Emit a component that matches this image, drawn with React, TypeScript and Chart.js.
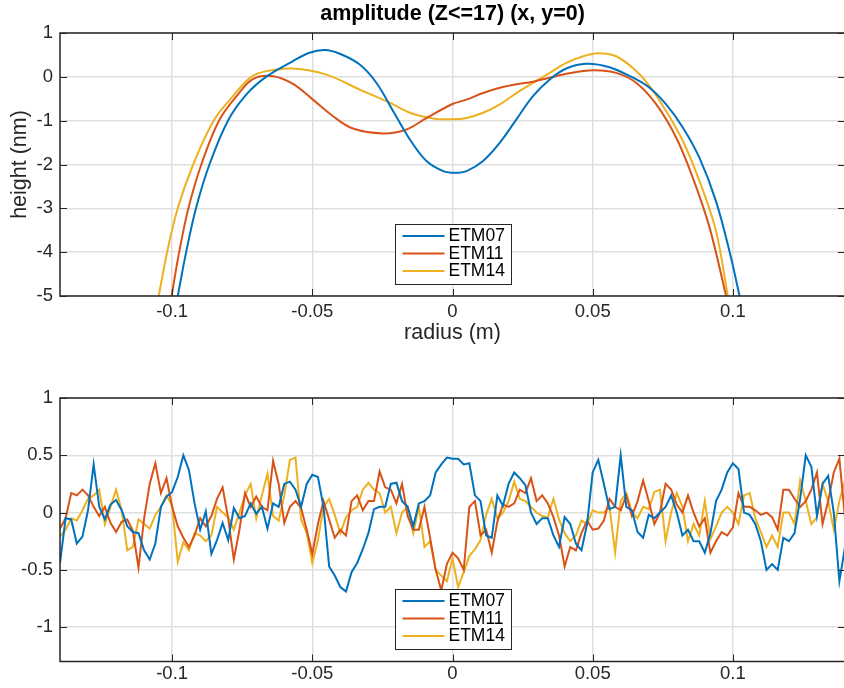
import React, { useEffect, useRef } from 'react';
import { Chart, registerables } from 'chart.js';

Chart.register(...registerables);

const FONT = '"Liberation Sans", Arial, Helvetica, sans-serif';
const AXIS_COLOR = '#262626';
const GRID_COLOR = '#dfdfdf';
const BLUE = '#0072BD';
const ORANGE = '#D95319';
const YELLOW = '#EDB120';

const seriesNames = ['ETM07', 'ETM11', 'ETM14'];
const titleText = 'amplitude (Z<=17) (x, y=0)';
const xLabelText = 'radius (m)';
const yLabelText = 'height (nm)';

const xTickValues = [-0.1, -0.05, 0, 0.05, 0.1];
const xTickLabels = ['-0.1', '-0.05', '0', '0.05', '0.1'];
const topYTickValues = [-5, -4, -3, -2, -1, 0, 1];
const topYTickLabels = ['-5', '-4', '-3', '-2', '-1', '0', '1'];
const botYTickValues = [-1, -0.5, 0, 0.5, 1];
const botYTickLabels = ['-1', '-0.5', '0', '0.5', '1'];

// ---------- top subplot (smooth profiles) ----------
const topEtm07X = [-0.098, -0.095, -0.0915, -0.0867, -0.0801, -0.0735, -0.0665, -0.0569, -0.051, -0.0456, -0.04, -0.0331, -0.0271, -0.0212, -0.0152, -0.0093, -0.0033, 0.0008, 0.005, 0.0109, 0.0169, 0.0228, 0.0287, 0.0347, 0.0406, 0.0477, 0.056, 0.0644, 0.0703, 0.0762, 0.0822, 0.0881, 0.094, 0.0988, 0.1024];
const topEtm07Y = [-5.0, -4.0, -3.0, -2.0, -1.0, -0.4, 0.0, 0.36, 0.55, 0.61, 0.52, 0.28, -0.14, -0.78, -1.43, -1.92, -2.15, -2.19, -2.15, -1.92, -1.5, -0.97, -0.44, -0.06, 0.19, 0.3, 0.22, -0.02, -0.25, -0.63, -1.16, -1.85, -2.84, -3.98, -5.0];

const topEtm11X = [-0.1002, -0.0975, -0.0942, -0.0896, -0.0833, -0.0765, -0.0712, -0.064, -0.0569, -0.0498, -0.0426, -0.0355, -0.0248, -0.0164, -0.0093, 0.0, 0.005, 0.0109, 0.0169, 0.0228, 0.0287, 0.0347, 0.0406, 0.0501, 0.0584, 0.0656, 0.0727, 0.0798, 0.0857, 0.0917, 0.0976];
const topEtm11Y = [-5.0, -4.0, -3.0, -2.0, -1.0, -0.4, -0.05, 0.015, -0.16, -0.52, -0.9, -1.18, -1.29, -1.2, -0.94, -0.62, -0.52, -0.37, -0.25, -0.17, -0.11, -0.02, 0.07, 0.15, 0.09, -0.14, -0.63, -1.39, -2.3, -3.44, -5.0];

const topEtm14X = [-0.1048, -0.1018, -0.098, -0.0925, -0.0852, -0.0783, -0.0718, -0.0664, -0.0569, -0.045, -0.0331, -0.0224, -0.0152, -0.0069, 0.0, 0.005, 0.0109, 0.0169, 0.0228, 0.0287, 0.0347, 0.0406, 0.0466, 0.0519, 0.0584, 0.0656, 0.0703, 0.0762, 0.0822, 0.0881, 0.094, 0.0982];
const topEtm14Y = [-5.0, -4.0, -3.0, -2.0, -1.0, -0.44, 0.0, 0.13, 0.19, 0.05, -0.29, -0.59, -0.82, -0.95, -0.97, -0.94, -0.82, -0.63, -0.37, -0.14, 0.09, 0.32, 0.47, 0.54, 0.47, 0.13, -0.21, -0.78, -1.47, -2.38, -3.52, -5.0];

// ---------- bottom subplot (residuals, sampled every 0.002 m from -0.14 to 0.14) ----------
const botX = Array.from({ length: 141 }, (_, i) => Math.round((-0.14 + i * 0.002) * 10000) / 10000);

const botEtm07 = [
  -0.44, -0.05, -0.06, -0.27, -0.21, 0.02, 0.42, 0.05, -0.06, 0.07, 0.11, 0.02, -0.12, -0.17, -0.18, -0.33, -0.41, -0.27, 0.05, 0.14,
  0.18, 0.31, 0.5, 0.37, 0.08, -0.15, 0.01, -0.36, -0.24, -0.09, -0.24, 0.04, -0.05, -0.03, 0.08, -0.01,
  0.05, -0.14, 0.08, 0.05, 0.25, 0.27, 0.2, 0.05, 0.25, 0.33, 0.31, 0.05, -0.47, -0.55, -0.65, -0.69, -0.52, -0.44, -0.32, -0.18,
  0.03, 0.05, 0.05, 0.25, 0.26, 0.1, 0.05, -0.12, 0.08, 0.1, 0.15, 0.35, 0.42, 0.48, 0.47,
  0.47, 0.42, 0.43, 0.15, 0.1, -0.2, -0.22, 0.15, 0.06, 0.25, 0.35, 0.3, 0.24, 0.0, -0.1, -0.05, -0.05, -0.2, -0.3, -0.04,
  -0.1, -0.27, -0.33, -0.1, 0.35, 0.46, 0.25, 0.03, 0.05, 0.5, 0.05, 0.02, -0.17, -0.22, -0.02,
  -0.05, 0.0, 0.05, 0.15, 0.0, -0.2, -0.15, -0.25, -0.25, -0.35, -0.18, 0.1, 0.2, 0.35, 0.43, 0.38, 0.0, -0.02, -0.1, -0.25,
  -0.5, -0.45, -0.5, -0.22, -0.25, -0.18, 0.12, 0.5, 0.4, -0.03, 0.25, 0.32, 0.0, -0.6, -0.3,
];

const botEtm11 = [
  -0.14, -0.05, 0.17, 0.15, 0.2, 0.15, 0.05, -0.03, 0.05, -0.09, -0.17, -0.08, -0.06, -0.16, -0.48, -0.05, 0.25, 0.43, 0.17, 0.3,
  0.05, -0.12, -0.22, -0.3, -0.2, -0.05, -0.12, -0.03, 0.12, 0.22, -0.05, -0.41, -0.15, 0.17, 0.05, 0.14,
  0.05, 0.02, 0.45, 0.25, -0.09, 0.05, 0.1, 0.04, -0.15, -0.36, -0.1, 0.1, -0.06, -0.22, -0.15, -0.2, 0.1, 0.15, 0.02, 0.1,
  0.1, 0.36, 0.22, 0.2, 0.08, 0.25, -0.03, -0.15, -0.15, 0.05, -0.22, -0.5, -0.68, -0.45, -0.35,
  -0.4, -0.5, 0.05, 0.1, -0.2, -0.15, -0.35, -0.08, 0.07, 0.05, 0.08, 0.2, 0.17, 0.3, 0.1, 0.15, 0.08, -0.04, -0.2, -0.47,
  -0.3, -0.33, -0.18, -0.07, -0.15, -0.14, -0.07, 0.12, 0.05, 0.02, 0.15, -0.03, 0.1, 0.28, 0.1,
  -0.1, 0.0, 0.25, 0.2, 0.07, 0.0, 0.15, 0.0, -0.12, -0.05, -0.35, -0.25, -0.17, -0.2, -0.13, 0.17, 0.05, 0.05, 0.02, -0.02,
  0.0, -0.04, -0.15, 0.2, 0.2, 0.12, 0.05, 0.1, 0.2, 0.35, -0.1, 0.1, 0.35, 0.47, -0.05,
];

const botEtm14 = [
  -0.21, -0.15, -0.05, -0.07, 0.02, 0.12, 0.15, 0.2, -0.1, 0.05, 0.2, 0.02, -0.33, -0.3, -0.06, -0.1, -0.14, -0.02, 0.05, 0.15,
  0.06, -0.43, -0.26, -0.33, -0.18, -0.2, -0.25, -0.2, 0.05, 0.0, -0.04, -0.15, 0.0, 0.15, 0.25, -0.05,
  0.15, 0.34, -0.03, -0.07, 0.15, 0.46, 0.48, -0.06, -0.18, -0.44, -0.24, 0.05, 0.12, -0.02, -0.18, -0.04, 0.02, 0.05, 0.2, 0.26,
  0.2, 0.17, 0.0, 0.05, -0.18, 0.0, 0.05, -0.18, 0.05, -0.3, -0.25, -0.5, -0.55, -0.6, -0.4,
  -0.65, -0.52, -0.38, -0.32, -0.24, -0.02, 0.12, -0.05, 0.0, 0.1, 0.27, 0.12, 0.1, 0.05, 0.0, -0.03, -0.04, 0.12, -0.06, -0.18,
  -0.25, -0.2, -0.07, -0.1, 0.02, 0.0, 0.0, 0.05, -0.35, 0.1, 0.17, 0.0, -0.05, 0.05, 0.03,
  0.18, 0.2, -0.25, 0.0, 0.17, 0.05, -0.25, -0.1, -0.2, 0.1, -0.23, -0.12, 0.0, 0.05, 0.0, -0.1, 0.15, 0.17, -0.05, -0.17,
  -0.3, -0.2, -0.3, 0.0, 0.0, -0.1, 0.28, 0.1, -0.1, -0.04, 0.25, 0.1, -0.15, 0.1, 0.28,
];

const colors = [BLUE, ORANGE, YELLOW];

function pts(xs: number[], ys: number[]) {
  return xs.map((x, i) => ({ x, y: ys[i] }));
}

type PlotCfg = {
  title?: string;
  xlabel?: string;
  ylabel?: string;
};

function matlabPlugin(cfg: PlotCfg) {
  return {
    id: 'matlabAxes',
    afterDraw(chart: any) {
      const { ctx, chartArea: a, scales } = chart;
      ctx.save();
      // inner tick marks
      ctx.strokeStyle = AXIS_COLOR;
      ctx.lineWidth = 1;
      ctx.beginPath();
      for (const t of scales.x.ticks) {
        const px = Math.round(scales.x.getPixelForValue(t.value)) + 0.5;
        ctx.moveTo(px, a.bottom);
        ctx.lineTo(px, a.bottom - 7);
        ctx.moveTo(px, a.top);
        ctx.lineTo(px, a.top + 7);
      }
      for (const t of scales.y.ticks) {
        const py = Math.round(scales.y.getPixelForValue(t.value)) + 0.5;
        ctx.moveTo(a.left, py);
        ctx.lineTo(a.left + 7, py);
        ctx.moveTo(a.right, py);
        ctx.lineTo(a.right - 7, py);
      }
      ctx.stroke();
      // frame
      ctx.lineWidth = 1.5;
      ctx.strokeRect(a.left, a.top, a.right - a.left, a.bottom - a.top);

      // legend (bottom centre, inside axes)
      const lw = 116;
      const lh = 60;
      const lx = Math.round((a.left + a.right) / 2 - lw / 2) + 0.5;
      const ly = Math.round(a.bottom - 12.5 - lh) + 0.5;
      ctx.fillStyle = '#ffffff';
      ctx.fillRect(lx, ly, lw, lh);
      ctx.lineWidth = 1;
      ctx.strokeStyle = AXIS_COLOR;
      ctx.strokeRect(lx, ly, lw, lh);
      ctx.font = `17.5px ${FONT}`;
      ctx.textBaseline = 'middle';
      ctx.textAlign = 'left';
      chart.data.datasets.forEach((ds: any, i: number) => {
        const cy = ly + 11.5 + i * 17.5;
        ctx.strokeStyle = ds.borderColor;
        ctx.lineWidth = 2;
        ctx.beginPath();
        ctx.moveTo(lx + 7, cy);
        ctx.lineTo(lx + 49, cy);
        ctx.stroke();
        ctx.fillStyle = '#000000';
        ctx.fillText(ds.label, lx + 53, cy + 0.5);
      });

      // texts
      ctx.fillStyle = AXIS_COLOR;
      ctx.textAlign = 'center';
      const cx = (a.left + a.right) / 2;
      if (cfg.title) {
        ctx.font = `bold 21.5px ${FONT}`;
        ctx.fillStyle = '#000000';
        ctx.fillText(cfg.title, cx, 14);
        ctx.fillStyle = AXIS_COLOR;
      }
      if (cfg.xlabel) {
        ctx.font = `21.5px ${FONT}`;
        ctx.fillText(cfg.xlabel, cx, a.bottom + 37);
      }
      if (cfg.ylabel) {
        ctx.font = `21.5px ${FONT}`;
        ctx.translate(20, (a.top + a.bottom) / 2);
        ctx.rotate(-Math.PI / 2);
        ctx.fillText(cfg.ylabel, 0, 0);
      }
      ctx.restore();
    },
  };
}

function makeChart(
  canvas: HTMLCanvasElement,
  datasets: any[],
  yMin: number,
  yMax: number,
  yTicks: number[],
  yLabels: string[],
  padTop: number,
  xAxisHeight: number,
  xTickPad: number,
  smooth: boolean,
  cfg: PlotCfg,
) {
  return new Chart(canvas, {
    type: 'line',
    data: {
      datasets: datasets.map((d, i) => ({
        label: d.label,
        data: d.data,
        borderColor: colors[i],
        backgroundColor: colors[i],
        borderWidth: 2,
        pointRadius: 0,
        fill: false,
        tension: smooth ? 0.35 : 0,
      })),
    },
    options: {
      responsive: false,
      animation: false,
      events: [],
      layout: { padding: { left: 0, top: padTop, right: 5, bottom: 0 } },
      plugins: { legend: { display: false }, tooltip: { enabled: false }, title: { display: false } },
      scales: {
        x: {
          type: 'linear',
          min: -0.14,
          max: 0.14,
          afterBuildTicks: (s: any) => {
            s.ticks = xTickValues.map((v) => ({ value: v }));
          },
          afterFit: (s: any) => {
            s.height = xAxisHeight;
          },
          grid: { color: GRID_COLOR, lineWidth: 1.5, drawTicks: false },
          border: { display: false },
          ticks: {
            autoSkip: false,
            maxRotation: 0,
            padding: xTickPad,
            color: AXIS_COLOR,
            font: { family: FONT, size: 18.5 },
            callback: (_v: any, idx: number) => xTickLabels[idx],
          },
        },
        y: {
          type: 'linear',
          min: yMin,
          max: yMax,
          afterBuildTicks: (s: any) => {
            s.ticks = yTicks.map((v) => ({ value: v }));
          },
          afterFit: (s: any) => {
            s.width = 60;
          },
          grid: { color: GRID_COLOR, lineWidth: 1.5, drawTicks: false },
          border: { display: false },
          ticks: {
            autoSkip: false,
            padding: 7,
            color: AXIS_COLOR,
            font: { family: FONT, size: 18.5 },
            callback: (_v: any, idx: number) => yLabels[idx],
          },
        },
      },
    },
    plugins: [matlabPlugin(cfg)],
  } as any);
}

export default function App() {
  const topRef = useRef<HTMLCanvasElement>(null);
  const botRef = useRef<HTMLCanvasElement>(null);

  useEffect(() => {
    const top = makeChart(
      topRef.current!,
      [
        { label: seriesNames[0], data: pts(topEtm07X, topEtm07Y) },
        { label: seriesNames[1], data: pts(topEtm11X, topEtm11Y) },
        { label: seriesNames[2], data: pts(topEtm14X, topEtm14Y) },
      ],
      -5,
      1,
      topYTickValues,
      topYTickLabels,
      33,
      54,
      5,
      true,
      { title: titleText, xlabel: xLabelText, ylabel: yLabelText },
    );
    const bot = makeChart(
      botRef.current!,
      [
        { label: seriesNames[0], data: pts(botX, botEtm07) },
        { label: seriesNames[1], data: pts(botX, botEtm11) },
        { label: seriesNames[2], data: pts(botX, botEtm14) },
      ],
      -1.3,
      1,
      botYTickValues,
      botYTickLabels,
      48,
      26.5,
      1,
      false,
      {},
    );
    return () => {
      top.destroy();
      bot.destroy();
    };
  }, []);

  return (
    <div style={{ position: 'fixed', left: 0, top: 0, width: 844, height: 688, overflow: 'hidden', background: '#ffffff' }}>
      <canvas ref={topRef} width={850} height={350} style={{ position: 'absolute', left: 0, top: 0 }} />
      <canvas ref={botRef} width={850} height={338} style={{ position: 'absolute', left: 0, top: 350 }} />
    </div>
  );
}
